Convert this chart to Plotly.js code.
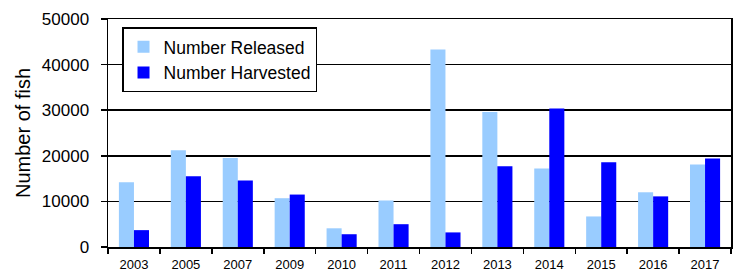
<!DOCTYPE html>
<html>
<head>
<meta charset="utf-8">
<script src="https://cdn.plot.ly/plotly-3.0.1.min.js"></script>
<style>html,body{margin:0;padding:0;background:#fff;}#chart{width:739px;height:275px;}</style>
</head>
<body>
<div id="chart"></div>
<script>
var years = ["2003","2005","2007","2009","2010","2011","2012","2013","2014","2015","2016","2017"];
var released = [14200, 21200, 19500, 10700, 4100, 10200, 43300, 29600, 17200, 6700, 12000, 18100];
var harvested = [3700, 15500, 14600, 11500, 2800, 5000, 3200, 17700, 30400, 18600, 11100, 19400];

var font = "Arial, 'Liberation Sans', sans-serif";
var data = [
  {type:"bar", name:"Number Released", x:years, y:released, marker:{color:"#99CCFF"}},
  {type:"bar", name:"Number Harvested", x:years, y:harvested, marker:{color:"#0000FF"}}
];
var layout = {
  width:739, height:275,
  margin:{l:108, r:8, t:18.5, b:28.3, pad:0},
  paper_bgcolor:"#fff", plot_bgcolor:"#fff",
  font:{family:font, color:"#000"},
  barmode:"group", bargap:0.42, bargroupgap:0,
  showlegend:true,
  legend:{x:0.0225, y:0.963, xanchor:"left", yanchor:"top", bgcolor:"#fff",
          bordercolor:"#000", borderwidth:1.5, font:{size:17.5, family:font}, itemwidth:30},
  xaxis:{type:"category", tickson:"boundaries", ticks:"outside", ticklen:5, tickwidth:1.5, tickcolor:"#000",
         showline:true, linecolor:"#000", linewidth:1.5, mirror:true, showgrid:false,
         tickfont:{size:13, family:font}, ticklabelstandoff:5, fixedrange:true},
  yaxis:{range:[0,50000], dtick:10000, tickformat:"d", ticks:"outside", ticklen:6, tickwidth:1.5, tickcolor:"#000",
         showline:true, linecolor:"#000", linewidth:1.5, mirror:true,
         showgrid:true, gridcolor:"#000", gridwidth:1.5, zeroline:false,
         tickfont:{size:17, family:font}, ticklabelstandoff:8,
         title:{text:"Number of fish", font:{size:20, family:font}, standoff:6}, automargin:false}
};
Plotly.newPlot("chart", data, layout, {displayModeBar:false, staticPlot:true});
</script>
</body>
</html>
